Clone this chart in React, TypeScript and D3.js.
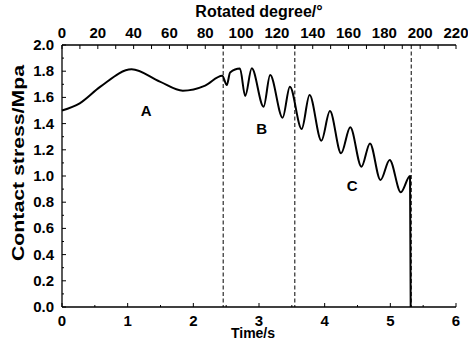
import React from "react";
import * as d3 from "d3";

// Curve samples: time (s) and contact stress (MPa)
const timeS = [
  0, 0.27, 0.58, 1.06, 1.49, 1.84, 2.18, 2.44,
  2.51, 2.56, 2.71, 2.79, 2.89, 3.07, 3.17, 3.36, 3.47, 3.65, 3.77, 3.95,
  4.08, 4.25, 4.39, 4.56, 4.69, 4.85, 4.99, 5.16, 5.3, 5.31,
];
const stressMPa = [
  1.5, 1.555, 1.68, 1.814, 1.72, 1.651, 1.69, 1.765,
  1.695, 1.79, 1.82, 1.61, 1.822, 1.529, 1.771, 1.445, 1.682, 1.359, 1.618, 1.27,
  1.496, 1.173, 1.372, 1.071, 1.249, 0.969, 1.122, 0.876, 1.0, 0.0,
];

// Stage boundaries (rotated degree)
const boundaryDeg = [90, 130, 195];

// Stage labels
const stageNames = ["A", "B", "C"];
const stageTime = [1.28, 3.04, 4.42];
const stageStress = [1.5, 1.36, 0.92];

const timeTicks = [0, 1, 2, 3, 4, 5, 6];
const timeMinor = [0.5, 1.5, 2.5, 3.5, 4.5, 5.5];
const degTicks = [0, 20, 40, 60, 80, 100, 120, 140, 160, 180, 200, 220];
const degMinor = [10, 30, 50, 70, 90, 110, 130, 150, 170, 190, 210];
const stressTicks = [0, 0.2, 0.4, 0.6, 0.8, 1.0, 1.2, 1.4, 1.6, 1.8, 2.0];
const stressMinor = [0.1, 0.3, 0.5, 0.7, 0.9, 1.1, 1.3, 1.5, 1.7, 1.9];

const W = 468;
const H = 342;
const L = 62, R = 456, T = 45, B = 307;

export default function App() {
  const x = d3.scaleLinear().domain([0, 6]).range([L, R]);
  const xd = d3.scaleLinear().domain([0, 220]).range([L, R]);
  const y = d3.scaleLinear().domain([0, 2]).range([B, T]);

  const pts: [number, number][] = timeS.map((t, i) => [t, stressMPa[i]]);
  const line = d3
    .line<[number, number]>()
    .x((d) => x(d[0]))
    .y((d) => y(d[1]))
    .curve(d3.curveMonotoneX);

  const font = "'Liberation Sans', Arial, sans-serif";
  const tickStyle = { fontFamily: font, fontWeight: 700, fontSize: 15, fill: "#000" } as const;

  return (
    <svg
      width={W}
      height={H}
      viewBox={`0 0 ${W} ${H}`}
      style={{ position: "absolute", left: 0, top: 0, display: "block", background: "#fff" }}
    >
      {/* dashed boundaries */}
      {boundaryDeg.map((d) => (
        <line
          key={d}
          x1={xd(d)}
          x2={xd(d)}
          y1={T}
          y2={B}
          stroke="#000"
          strokeWidth={1}
          strokeDasharray="4,2.5"
        />
      ))}

      {/* curve */}
      <path d={line(pts) ?? ""} fill="none" stroke="#000" strokeWidth={2} strokeLinejoin="round" />

      {/* axes lines */}
      <line x1={L} x2={R} y1={B} y2={B} stroke="#000" strokeWidth={1.3} />
      <line x1={L} x2={R} y1={T} y2={T} stroke="#000" strokeWidth={1.3} />
      <line x1={L} x2={L} y1={T} y2={B} stroke="#000" strokeWidth={1.3} />

      {/* bottom ticks */}
      {timeTicks.map((t) => (
        <g key={"bt" + t}>
          <line x1={x(t)} x2={x(t)} y1={B} y2={B - 4} stroke="#000" strokeWidth={1} />
          <text x={x(t)} y={B + 19} textAnchor="middle" style={tickStyle}>
            {t}
          </text>
        </g>
      ))}
      {timeMinor.map((t) => (
        <line key={"bm" + t} x1={x(t)} x2={x(t)} y1={B} y2={B - 2} stroke="#000" strokeWidth={1} />
      ))}

      {/* top ticks */}
      {degTicks.map((d) => (
        <g key={"tt" + d}>
          <line x1={xd(d)} x2={xd(d)} y1={T} y2={T + 4} stroke="#000" strokeWidth={1} />
          <text x={xd(d)} y={T - 7} textAnchor="middle" style={tickStyle}>
            {d}
          </text>
        </g>
      ))}
      {degMinor.map((d) => (
        <line key={"tm" + d} x1={xd(d)} x2={xd(d)} y1={T} y2={T + 4} stroke="#000" strokeWidth={1} />
      ))}

      {/* left ticks */}
      {stressTicks.map((v) => (
        <g key={"lt" + v}>
          <line x1={L} x2={L + 4} y1={y(v)} y2={y(v)} stroke="#000" strokeWidth={1} />
          <text x={L - 8} y={y(v) + 5} textAnchor="end" style={tickStyle}>
            {v.toFixed(1)}
          </text>
        </g>
      ))}
      {stressMinor.map((v) => (
        <line key={"lm" + v} x1={L} x2={L + 2} y1={y(v)} y2={y(v)} stroke="#000" strokeWidth={1} />
      ))}

      {/* stage labels */}
      {stageNames.map((s, i) => (
        <text
          key={s}
          x={x(stageTime[i])}
          y={y(stageStress[i]) + 5}
          textAnchor="middle"
          style={tickStyle}
        >
          {s}
        </text>
      ))}

      {/* axis titles */}
      <text x={(L + R) / 2} y={17} textAnchor="middle" style={{ ...tickStyle, fontSize: 16 }}>
        Rotated degree/°
      </text>
      <text x={253} y={338} textAnchor="middle" style={{ ...tickStyle, fontSize: 14 }}>
        Time/s
      </text>
      <text
        transform={`translate(24, 163) rotate(-90)`}
        textAnchor="middle"
        textLength={196}
        lengthAdjust="spacingAndGlyphs"
        style={{ ...tickStyle, fontSize: 16 }}
      >
        Contact stress/Mpa
      </text>
    </svg>
  );
}
